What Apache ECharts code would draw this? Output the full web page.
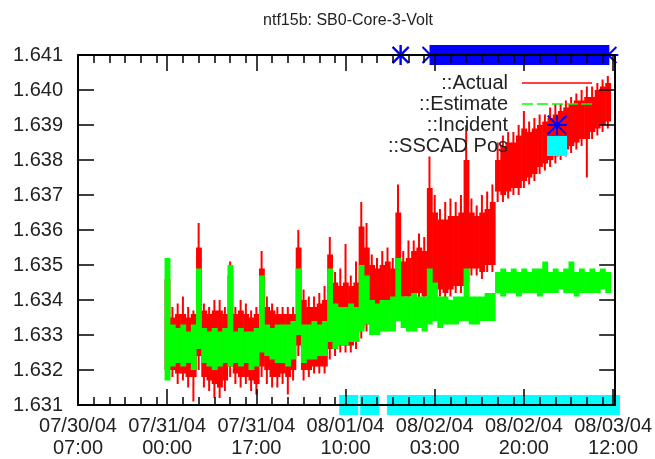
<!DOCTYPE html>
<html>
<head>
<meta charset="utf-8">
<script src="https://cdn.jsdelivr.net/npm/echarts@6/dist/echarts.min.js"></script>
<style>
  html, body { margin: 0; background: #fff; }
  #main { width: 655px; height: 459px; }
</style>
</head>
<body>
<div id="main"></div>
<script>
// x values are hours since 07/30/04 07:00
var X_MAX = 102.4;
var majorTicks = [0, 17, 34, 51, 68, 85, 102];
var tickLabels = ['07/30/04\n07:00', '07/31/04\n00:00', '07/31/04\n17:00', '08/01/04\n10:00',
  '08/02/04\n03:00', '08/02/04\n20:00', '08/03/04\n12:00'];

// hourly samples: dense band [low, high] plus the extremes [min, max] of each hour
var hours = [17, 18, 19, 20, 21, 22, 23, 24, 25, 26, 27, 28, 29, 30, 31, 32, 33, 34, 35, 36,
  37, 38, 39, 40, 41, 42, 43, 44, 45, 46, 47, 48, 49, 50, 51, 52, 53, 54, 55, 56,
  57, 58, 59, 60, 61, 62, 63, 64, 65, 66, 67, 68, 69, 70, 71, 72, 73, 74, 75, 76,
  77, 78, 79, 80, 81, 82, 83, 84, 85, 86, 87, 88, 89, 90, 91, 92, 93, 94, 95, 96,
  97, 98, 99, 100, 101];

var actualMin = [1.6318, 1.6318, 1.6316, 1.6317, 1.6315, 1.6311, 1.6320, 1.6315, 1.6314, 1.6312,
  1.6312, 1.6314, 1.6318, 1.6316, 1.6315, 1.6316, 1.6314, 1.6313, 1.6318, 1.6316,
  1.6315, 1.6315, 1.6316, 1.6313, 1.6317, 1.6324, 1.6317, 1.6318, 1.6319, 1.6319,
  1.6319, 1.6323, 1.6324, 1.6325, 1.6325, 1.6325, 1.6326, 1.6329, 1.6331, 1.6334,
  1.6334, 1.6335, 1.6335, 1.6336, 1.6336, 1.6339, 1.6339, 1.6339, 1.6340, 1.6339,
  1.6340, 1.6341, 1.6341, 1.6340, 1.6341, 1.6342, 1.6342, 1.6343, 1.6347, 1.6347,
  1.6346, 1.6348, 1.6348, 1.6368, 1.6368, 1.6369, 1.6370, 1.6370, 1.6372, 1.6373,
  1.6374, 1.6376, 1.6377, 1.6378, 1.6379, 1.6380, 1.6381, 1.6382, 1.6383, 1.6384,
  1.6375, 1.6386, 1.6387, 1.6388, 1.6389];
var actualLow = [1.6320, 1.6320, 1.6319, 1.6319, 1.6318, 1.6318, 1.6324, 1.6318, 1.6317, 1.6316,
  1.6315, 1.6317, 1.6321, 1.6319, 1.6318, 1.6318, 1.6317, 1.6316, 1.6321, 1.6320,
  1.6318, 1.6318, 1.6319, 1.6318, 1.6320, 1.6327, 1.6320, 1.6320, 1.6321, 1.6321,
  1.6321, 1.6326, 1.6326, 1.6327, 1.6327, 1.6327, 1.6328, 1.6332, 1.6333, 1.6336,
  1.6336, 1.6337, 1.6337, 1.6338, 1.6338, 1.6341, 1.6341, 1.6341, 1.6342, 1.6341,
  1.6342, 1.6343, 1.6343, 1.6342, 1.6343, 1.6344, 1.6344, 1.6345, 1.6349, 1.6349,
  1.6348, 1.6350, 1.6350, 1.6371, 1.6370, 1.6371, 1.6372, 1.6372, 1.6374, 1.6375,
  1.6376, 1.6378, 1.6379, 1.6380, 1.6381, 1.6382, 1.6383, 1.6384, 1.6385, 1.6386,
  1.6386, 1.6388, 1.6389, 1.6390, 1.6391];
var actualHigh = [1.6346, 1.6335, 1.6336, 1.6336, 1.6335, 1.6336, 1.6355, 1.6337, 1.6336, 1.6337,
  1.6337, 1.6336, 1.6347, 1.6336, 1.6337, 1.6336, 1.6335, 1.6336, 1.6349, 1.6338,
  1.6337, 1.6336, 1.6336, 1.6336, 1.6336, 1.6355, 1.6340, 1.6338, 1.6338, 1.6339,
  1.6340, 1.6353, 1.6345, 1.6344, 1.6345, 1.6344, 1.6345, 1.6361, 1.6355, 1.6350,
  1.6349, 1.6350, 1.6351, 1.6349, 1.6365, 1.6351, 1.6352, 1.6354, 1.6355, 1.6354,
  1.6372, 1.6365, 1.6363, 1.6363, 1.6364, 1.6364, 1.6365, 1.6380, 1.6365, 1.6364,
  1.6365, 1.6366, 1.6368, 1.6380, 1.6384, 1.6385, 1.6385, 1.6387, 1.6389, 1.6388,
  1.6389, 1.6390, 1.6391, 1.6392, 1.6393, 1.6394, 1.6395, 1.6396, 1.6397, 1.6397,
  1.6398, 1.6398, 1.6400, 1.6401, 1.6402];
var actualMax = [1.6352, 1.6338, 1.6339, 1.6341, 1.6338, 1.6337, 1.6362, 1.6339, 1.6338, 1.6340,
  1.6340, 1.6338, 1.6351, 1.6338, 1.6340, 1.6339, 1.6337, 1.6338, 1.6354, 1.6341,
  1.6339, 1.6338, 1.6338, 1.6338, 1.6338, 1.6360, 1.6343, 1.6341, 1.6341, 1.6342,
  1.6344, 1.6358, 1.6348, 1.6349, 1.6356, 1.6347, 1.6351, 1.6368, 1.6362, 1.6353,
  1.6352, 1.6354, 1.6355, 1.6352, 1.6373, 1.6354, 1.6357, 1.6357, 1.6359, 1.6358,
  1.6381, 1.6370, 1.6366, 1.6368, 1.6369, 1.6368, 1.6370, 1.6390, 1.6369, 1.6367,
  1.6370, 1.6371, 1.6373, 1.6385, 1.6387, 1.6388, 1.6388, 1.6390, 1.6394, 1.6391,
  1.6392, 1.6393, 1.6393, 1.6395, 1.6396, 1.6396, 1.6397, 1.6398, 1.6399, 1.6400,
  1.6401, 1.6401, 1.6402, 1.6403, 1.6404];

var estimateLow = [1.6317, 1.6321, 1.6322, 1.6321, 1.6322, 1.6320, 1.6326, 1.6322, 1.6321, 1.6320,
  1.6321, 1.6322, 1.6321, 1.6322, 1.6321, 1.6322, 1.6320, 1.6321, 1.6325, 1.6324,
  1.6323, 1.6322, 1.6322, 1.6321, 1.6323, 1.6330, 1.6322, 1.6323, 1.6323, 1.6324,
  1.6324, 1.6328, 1.6326, 1.6327, 1.6327, 1.6328, 1.6328, 1.6331, 1.6333, 1.6330,
  1.6330, 1.6331, 1.6331, 1.6331, 1.6334, 1.6332, 1.6331, 1.6331, 1.6332, 1.6331,
  1.6333, 1.6334, 1.6332, 1.6333, 1.6333, 1.6333, 1.6334, 1.6334, 1.6333, 1.6333,
  1.6334, 1.6334, 1.6334, 1.6342, 1.6341, 1.6342, 1.6342, 1.6341, 1.6342, 1.6342,
  1.6342, 1.6341, 1.6342, 1.6342, 1.6342, 1.6343, 1.6342, 1.6342, 1.6341, 1.6342,
  1.6342, 1.6342, 1.6342, 1.6343, 1.6342];
var estimateHigh = [1.6352, 1.6333, 1.6332, 1.6333, 1.6331, 1.6333, 1.6349, 1.6332, 1.6331, 1.6332,
  1.6331, 1.6332, 1.6350, 1.6331, 1.6332, 1.6331, 1.6331, 1.6332, 1.6347, 1.6333,
  1.6332, 1.6333, 1.6333, 1.6333, 1.6334, 1.6349, 1.6333, 1.6333, 1.6334, 1.6333,
  1.6334, 1.6349, 1.6339, 1.6338, 1.6338, 1.6339, 1.6338, 1.6350, 1.6347, 1.6340,
  1.6339, 1.6340, 1.6340, 1.6341, 1.6352, 1.6341, 1.6341, 1.6342, 1.6341, 1.6341,
  1.6349, 1.6345, 1.6341, 1.6341, 1.6340, 1.6341, 1.6341, 1.6349, 1.6341, 1.6341,
  1.6341, 1.6342, 1.6342, 1.6348, 1.6349, 1.6348, 1.6349, 1.6348, 1.6349, 1.6348,
  1.6349, 1.6349, 1.6351, 1.6348, 1.6349, 1.6348, 1.6349, 1.6351, 1.6348, 1.6349,
  1.6348, 1.6349, 1.6348, 1.6349, 1.6348];

// flagged periods [start hour, end hour]
var incidentRuns = [[61.5, 61.5], [67.2, 101.1]];
var incidentLevel = 1.641;
var sscadRuns = [[51.6, 51.6], [55.6, 55.6], [60.7, 101.5]];
var sscadLevel = 1.631;

var FONT = '"Liberation Sans", Arial, sans-serif';
var RED = '#ff0000', GREEN = '#00ff00', BLUE = '#0000ff', CYAN = '#00ffff';
var STAR_PATH = 'path://M0,9L20,9L20,11L0,11Z M9,0L11,0L11,20L9,20Z M1.4,0L20,18.6L18.6,20L0,1.4Z M18.6,0L20,1.4L1.4,20L0,18.6Z';

var minorTicks = [];
majorTicks.forEach(function (m) {
  for (var k = 1; k <= 5; k++) {
    if (m + 3 * k < X_MAX) minorTicks.push(m + 3 * k);
  }
});

function tickLabel(v) {
  var i = majorTicks.indexOf(v);
  return i < 0 ? '' : tickLabels[i];
}

// each hour: solid block for the dense band, thin line for the extremes
function bandRender(color, withExtremes) {
  return function (params, api) {
    var t = api.value(0);
    var p1 = api.coord([t - 0.5, api.value(2)]);
    var p2 = api.coord([t + 0.5, api.value(1)]);
    var children = [{
      type: 'rect',
      shape: { x: p1[0], y: p1[1], width: p2[0] - p1[0] + 0.6, height: Math.max(1, p2[1] - p1[1]) },
      style: { fill: color }
    }];
    if (withExtremes) {
      var top = api.coord([t, api.value(4)]);
      var bot = api.coord([t, api.value(3)]);
      children.push({
        type: 'line',
        shape: { x1: top[0], y1: top[1], x2: bot[0], y2: bot[1] },
        style: { stroke: color, lineWidth: 2 }
      });
    }
    return { type: 'group', children: children };
  };
}

function star(cx, cy) {
  return [[-10, 0, 10, 0], [0, -10, 0, 10], [-8, -8, 8, 8], [-8, 8, 8, -8]].map(function (s) {
    return {
      type: 'line',
      shape: { x1: cx + s[0], y1: cy + s[1], x2: cx + s[2], y2: cy + s[3] },
      style: { stroke: BLUE, lineWidth: 2 }
    };
  });
}

var axisLine = { show: true, onZero: false, lineStyle: { color: '#000', width: 2 } };
var tickStyle = { color: '#000', width: 1.5 };

function xAxisDef(pos, major) {
  return {
    type: 'value', position: pos, min: 0, max: X_MAX, interval: 17, z: 5,
    axisLine: major ? axisLine : { show: false, onZero: false },
    axisTick: { inside: true, length: major ? 16 : 8, lineStyle: tickStyle, customValues: major ? majorTicks : minorTicks },
    axisLabel: {
      show: major && pos === 'bottom', customValues: majorTicks, formatter: tickLabel,
      fontSize: 20, lineHeight: 22, margin: 10, color: '#222', fontFamily: FONT
    },
    splitLine: { show: false }
  };
}

function yAxisDef(pos) {
  return {
    type: 'value', position: pos, min: 1.631, max: 1.641, interval: 0.001, z: 5,
    axisLine: axisLine,
    axisTick: { inside: true, length: 16, lineStyle: tickStyle },
    axisLabel: {
      show: pos === 'left', margin: 15, fontSize: 20, color: '#222', fontFamily: FONT,
      formatter: function (v) { return v.toFixed(3); }
    },
    splitLine: { show: false }
  };
}

var chart = echarts.init(document.getElementById('main'));
chart.setOption({
  animation: false,
  backgroundColor: '#fff',
  title: {
    text: 'ntf15b: SB0-Core-3-Volt',
    left: 348, top: 13, textAlign: 'center', padding: 0,
    textStyle: { fontSize: 16, fontWeight: 'normal', color: '#222', fontFamily: FONT }
  },
  legend: {
    orient: 'vertical', align: 'right', right: 63, top: 73, padding: 0,
    itemWidth: 70, itemHeight: 20, itemGap: 1, selectedMode: false,
    textStyle: { fontSize: 20, lineHeight: 20, color: '#222', fontFamily: FONT, padding: [0, 9, 0, 0] },
    data: [
      { name: '::Actual', icon: 'path://M0,0H70V1.4H0Z' },
      { name: '::Estimate', icon: 'path://M0,0H11V1.6H0Z M15,0H26V1.6H15Z M30,0H41V1.6H30Z M45,0H56V1.6H45Z M59,0H70V1.6H59Z' },
      { name: '::Incident', icon: STAR_PATH },
      { name: '::SSCAD Pos', icon: 'path://M0,0H10V10H0Z' }
    ]
  },
  grid: { left: 78, right: 38, top: 55, bottom: 49 },
  xAxis: [xAxisDef('bottom', true), xAxisDef('bottom', false), xAxisDef('top', true), xAxisDef('top', false)],
  yAxis: [yAxisDef('left'), yAxisDef('right')],
  series: [
    {
      name: '::Actual', type: 'custom', clip: true,
      itemStyle: { color: RED },
      encode: { x: 0, y: [1, 2, 3, 4] },
      renderItem: bandRender(RED, true),
      data: hours.map(function (h, i) { return [h, actualLow[i], actualHigh[i], actualMin[i], actualMax[i]]; })
    },
    {
      name: '::Estimate', type: 'custom', clip: true,
      itemStyle: { color: GREEN },
      encode: { x: 0, y: [1, 2] },
      renderItem: bandRender(GREEN, false),
      data: hours.map(function (h, i) { return [h, estimateLow[i], estimateHigh[i]]; })
    },
    {
      name: '::Incident', type: 'custom', clip: false,
      itemStyle: { color: BLUE },
      encode: { x: [0, 1], y: 2 },
      renderItem: function (params, api) {
        var a = api.coord([api.value(0), api.value(2)]);
        var b = api.coord([api.value(1), api.value(2)]);
        var children = star(a[0], a[1]).concat(star(b[0], b[1]));
        if (b[0] > a[0]) {
          children.push({ type: 'rect', shape: { x: a[0], y: a[1] - 10, width: b[0] - a[0], height: 20 }, style: { fill: BLUE } });
        }
        return { type: 'group', children: children };
      },
      data: incidentRuns.map(function (r) { return [r[0], r[1], incidentLevel]; })
    },
    {
      name: '::SSCAD Pos', type: 'custom', clip: false,
      itemStyle: { color: CYAN },
      encode: { x: [0, 1], y: 2 },
      renderItem: function (params, api) {
        var a = api.coord([api.value(0), api.value(2)]);
        var b = api.coord([api.value(1), api.value(2)]);
        return {
          type: 'rect',
          shape: { x: a[0] - 9.5, y: a[1] - 10, width: b[0] - a[0] + 19, height: 20 },
          style: { fill: CYAN }
        };
      },
      data: sscadRuns.map(function (r) { return [r[0], r[1], sscadLevel]; })
    }
  ]
});
</script>
</body>
</html>
